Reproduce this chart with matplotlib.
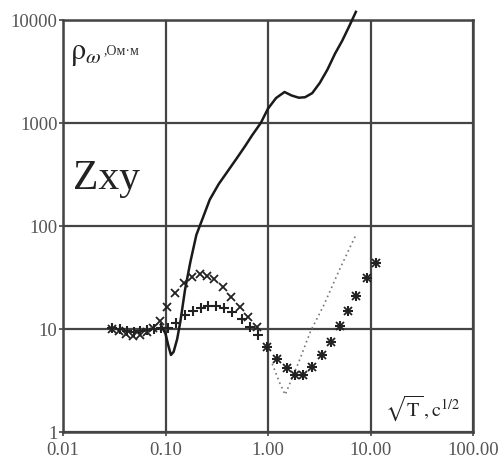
import numpy as np
import matplotlib
matplotlib.use("Agg")
import matplotlib.pyplot as plt

plt.rcParams['font.family'] = ['Liberation Serif', 'DejaVu Serif']
plt.rcParams['mathtext.fontset'] = 'stix'

# model curve (solid line)
model_x = [0.09, 0.10, 0.107, 0.113, 0.12, 0.13, 0.14, 0.155, 0.175, 0.20, 0.23,
           0.27, 0.33, 0.40, 0.50, 0.60, 0.70, 0.85, 1.0, 1.2, 1.45, 1.7, 2.0,
           2.3, 2.7, 3.2, 3.8, 4.5, 5.3, 6.2, 7.2]
model_y = [11.0, 9.0, 6.8, 5.6, 6.0, 8.0, 12.0, 24.0, 45.0, 82.0, 118.0,
           180.0, 255.0, 335.0, 460.0, 600.0, 760.0, 1000.0, 1380.0, 1750.0, 2000.0, 1850.0, 1760.0,
           1780.0, 1950.0, 2450.0, 3300.0, 4700.0, 6300.0, 8700.0, 12000.0]

# upper series ("x")
upper_x = [0.030, 0.035, 0.041, 0.048, 0.056, 0.066, 0.076, 0.088, 0.103, 0.124,
           0.152, 0.181, 0.215, 0.255, 0.30, 0.36, 0.44, 0.53, 0.64, 0.78,
           0.98, 1.22, 1.52, 1.83, 2.2, 2.7, 3.37, 4.1, 5.05, 6.0, 7.3, 9.2, 11.2]
upper_y = [10.0, 9.6, 9.0, 8.6, 8.8, 9.3, 10.2, 12.0, 16.5, 22.5,
           28.0, 32.0, 34.0, 33.0, 30.5, 25.5, 20.5, 16.3, 13.0, 10.5,
           6.7, 5.1, 4.2, 3.6, 3.6, 4.3, 5.6, 7.5, 10.8, 15.0, 21.0, 31.0, 44.0]

# lower series ("+")
lower_x = [0.030, 0.036, 0.042, 0.049, 0.057, 0.066, 0.077, 0.090, 0.105, 0.128,
           0.155, 0.185, 0.22, 0.26, 0.31, 0.37, 0.445, 0.556, 0.665, 0.80,
           0.98, 1.22, 1.52, 1.83, 2.2, 2.7, 3.37, 4.1, 5.05, 6.0, 7.3, 9.2, 11.2]
lower_y = [10.2, 9.9, 9.6, 9.4, 9.5, 9.7, 10.0, 10.2, 10.3, 11.5,
           13.7, 15.0, 16.0, 16.8, 16.8, 16.0, 14.5, 12.5, 10.5, 8.7,
           6.7, 5.1, 4.2, 3.6, 3.6, 4.3, 5.6, 7.5, 10.8, 15.0, 21.0, 31.0, 44.0]

# dotted line
dot_x = [1.1, 1.3, 1.47, 2.0, 2.6, 3.5, 5.0, 7.2]
dot_y = [4.6, 3.0, 2.3, 4.8, 9.5, 17.0, 38.0, 82.0]

xticks = [0.01, 0.1, 1, 10, 100]
xticklabels = ['0.01', '0.10', '1.00', '10.00', '100.00']
yticks = [1, 10, 100, 1000, 10000]
yticklabels = ['1', '10', '100', '1000', '10000']

fig = plt.figure(figsize=(5.0, 4.59), dpi=100)
ax = fig.add_axes([0.126, 0.0588, 0.82, 0.8976])
ax.set_xscale('log')
ax.set_yscale('log')
ax.set_xlim(0.01, 100)
ax.set_ylim(1, 10000)

ax.grid(True, which='major', color='#444444', linewidth=1.6)
ax.minorticks_off()
ax.set_xticks(xticks)
ax.set_xticklabels(xticklabels)
ax.set_yticks(yticks)
ax.set_yticklabels(yticklabels)
ax.tick_params(axis='both', which='major', labelsize=13.5, labelcolor='#555555',
               color='#444444', length=3, width=1.2)
ax.tick_params(axis='x', pad=4)
ax.tick_params(axis='y', pad=1)
for s in ax.spines.values():
    s.set_color('#444444')
    s.set_linewidth(1.8)

ax.plot(model_x, model_y, color='#1a1a1a', linewidth=1.8, clip_on=False, zorder=4)
ax.plot(upper_x, upper_y, linestyle='none', marker='x', markersize=6,
        markeredgewidth=1.3, color='#222222', zorder=5)
ax.plot(lower_x, lower_y, linestyle='none', marker='+', markersize=7,
        markeredgewidth=1.5, color='#222222', zorder=5)
ax.plot(dot_x, dot_y, linestyle=(0, (1, 2)), color='#777777', linewidth=1.2, zorder=3)

# axis captions inside the plot
ax.text(0.018, 0.955, r'$\mathrm{\rho}_{\omega}$', transform=ax.transAxes, fontsize=22,
        va='top', ha='left', color='#222222')
ax.text(0.098, 0.917, ',Ом·м', transform=ax.transAxes, fontsize=10,
        va='baseline', ha='left', color='#333333')
ax.text(0.025, 0.615, 'Zxy', transform=ax.transAxes, fontsize=30,
        va='center', ha='left', color='#222222')
ax.text(0.785, 0.022, r'$\sqrt{\mathrm{T}}\,\mathrm{,c}^{1/2}$', transform=ax.transAxes,
        fontsize=14.5, va='bottom', ha='left', color='#222222')

fig.savefig('out.png', dpi=100)
